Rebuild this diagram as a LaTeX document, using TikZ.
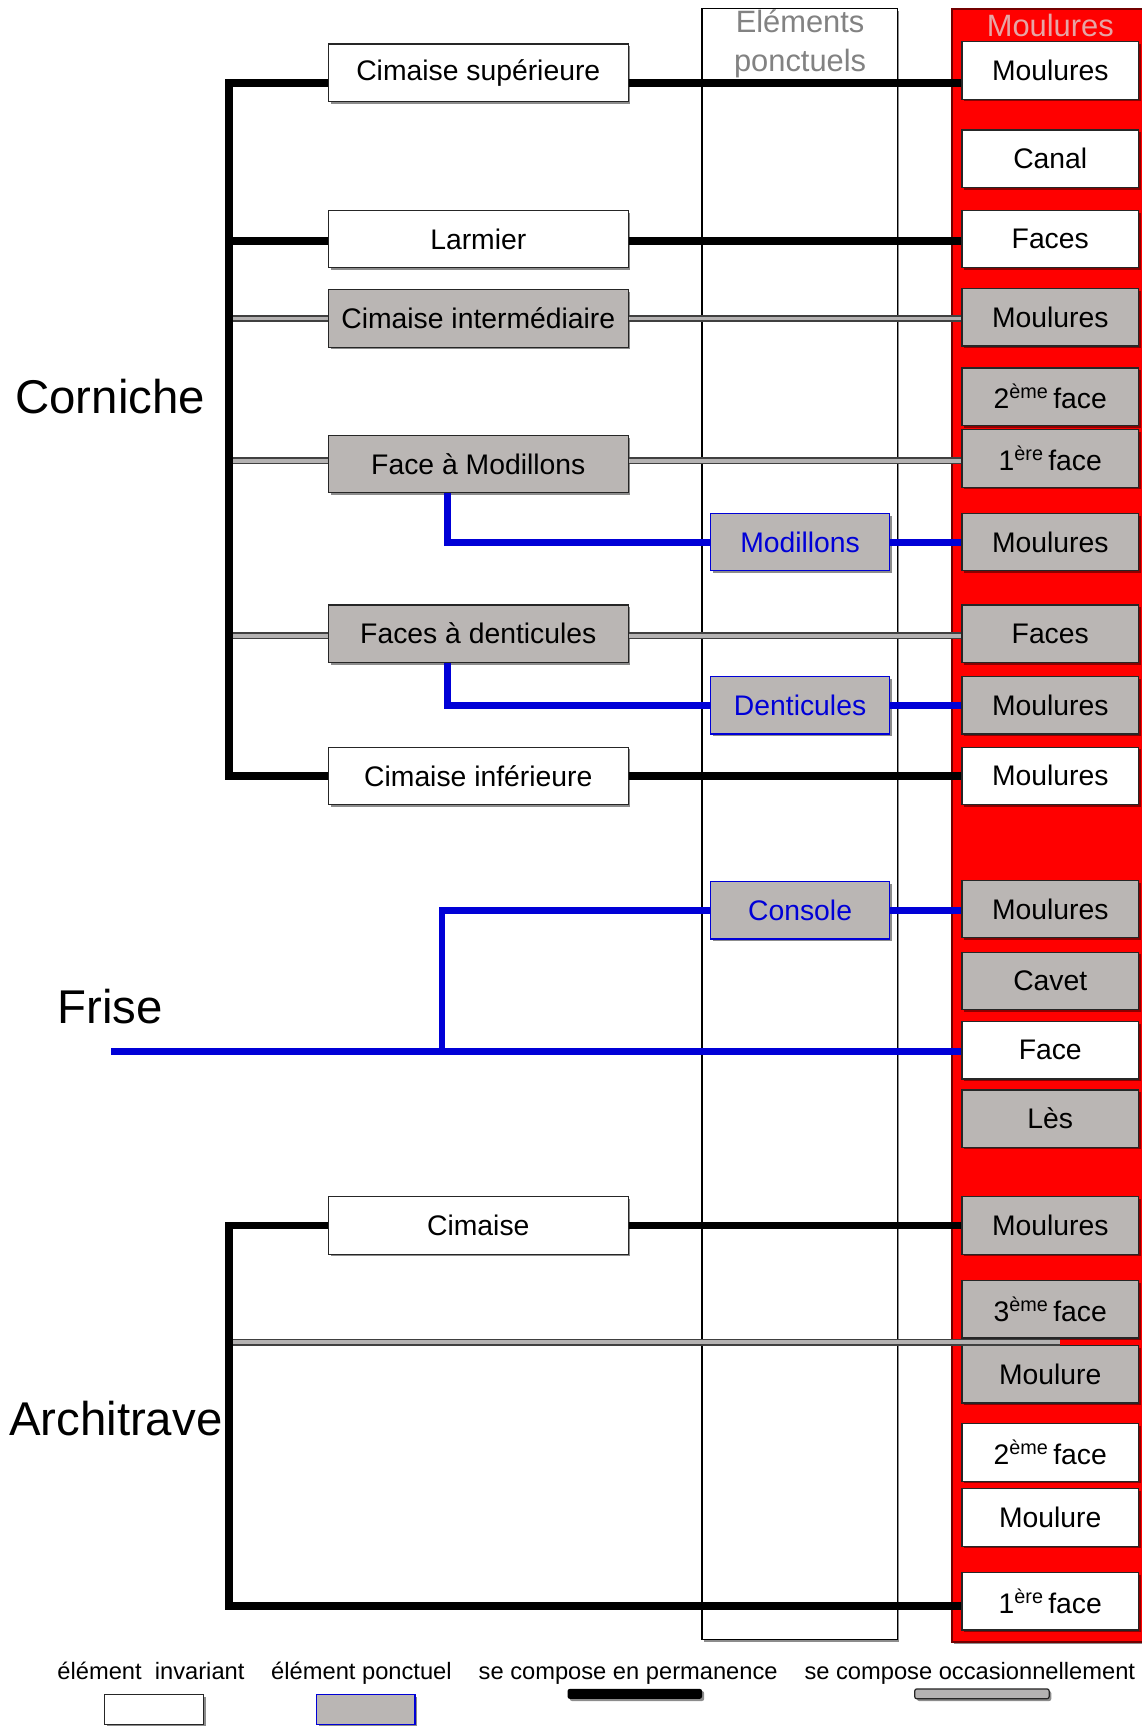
\documentclass[tikz,border=0pt]{standalone}
\usepackage{fontspec}
\setmainfont{Liberation Sans}
\usetikzlibrary{shadows}
\definecolor{boxgray}{RGB}{186,182,180}
\definecolor{redcol}{RGB}{255,0,0}
\definecolor{linkblue}{RGB}{0,0,215}
\definecolor{occgray}{RGB}{180,178,178}
\definecolor{titlepink}{RGB}{230,165,165}
\definecolor{titlegray}{RGB}{130,130,130}
\tikzset{
  shad/.style={drop shadow={shadow xshift=2pt,shadow yshift=-2pt,opacity=0.45,fill=black}},
  basebox/.style={draw=black!85,line width=1.1pt,inner sep=0pt,
    font=\fontsize{25.7}{30}\selectfont,shad},
  leftw/.style={basebox,fill=white,minimum width=272pt,minimum height=52pt},
  leftg/.style={basebox,fill=boxgray,minimum width=272pt,minimum height=52pt},
  rightw/.style={basebox,fill=white,minimum width=160pt,minimum height=52pt},
  rightg/.style={basebox,fill=boxgray,minimum width=160pt,minimum height=52pt},
  ponbox/.style={basebox,draw=linkblue,fill=boxgray,text=linkblue,minimum width=162pt,minimum height=52pt},
  perm/.style={line width=7pt,black},
  occ/.style={draw=black!75,double=occgray,line width=1.3pt,double distance=3.6pt},
  ponc/.style={line width=6pt,linkblue},
  biglabel/.style={font=\fontsize{43}{50}\selectfont,inner sep=0pt},
  legtext/.style={font=\fontsize{21.5}{25}\selectfont,inner sep=0pt,anchor=base},
}
\begin{document}
\begin{tikzpicture}[x=1pt,y=-1pt]
\useasboundingbox (0,0) rectangle (1036,1568);
% columns
\fill[white] (0,0) rectangle (1036,1568);
\draw[fill=redcol,draw=red!45!black,line width=1.5pt,shad] (864,8) rectangle (1045,1490);
\draw[fill=white,draw=black,line width=1pt,shad] (637,8) rectangle (814,1488);
\node[align=center,text=titlegray,font=\fontsize{28}{35}\selectfont,inner sep=0pt] (eptitle) at (726,40) {Eléments\\ponctuels};
\node[text=titlepink,font=\fontsize{28}{32}\selectfont,inner sep=0pt] (mtitle) at (953,23) {Moulures};
% big labels
\node[biglabel] (corniche) at (100,360) {Corniche};
\node[biglabel] (frise) at (100,913) {Frise};
\node[biglabel] (archi) at (105,1287) {Architrave};
% left boxes
\node[leftw] (csup) at (434,66) {Cimaise supérieure};
\node[leftw] (larm) at (434,217) {Larmier};
\node[leftg] (cint) at (434,289) {Cimaise intermédiaire};
\node[leftg] (fmod) at (434,421) {Face à Modillons};
\node[leftg] (fden) at (434,575) {Faces à denticules};
\node[leftw] (cinf) at (434,704) {Cimaise inférieure};
\node[leftw] (cim) at (434,1112) {Cimaise};
% ponctual boxes
\node[ponbox] (modi) at (726,492) {Modillons};
\node[ponbox] (dent) at (726,640) {Denticules};
\node[ponbox] (cons) at (726,826) {Console};
% right boxes
\node[rightw] (r1) at (953,64) {Moulures};
\node[rightw] (r2) at (953,144) {Canal};
\node[rightw] (r3) at (953,217) {Faces};
\node[rightg] (r4) at (953,288) {Moulures};
\node[rightg] (r5) at (953,360) {2\textsuperscript{ème}\,face};
\node[rightg] (r6) at (953,416) {1\textsuperscript{ère}\,face};
\node[rightg] (r7) at (953,492) {Moulures};
\node[rightg] (r8) at (953,575) {Faces};
\node[rightg] (r9) at (953,640) {Moulures};
\node[rightw] (r10) at (953,704) {Moulures};
\node[rightg] (r11) at (953,825) {Moulures};
\node[rightg] (r12) at (953,890) {Cavet};
\node[rightw] (r13) at (953,953) {Face};
\node[rightg] (r14) at (953,1015) {Lès};
\node[rightg] (r15) at (953,1112) {Moulures};
\node[rightg] (r16) at (953,1188) {3\textsuperscript{ème}\,face};
\node[rightg] (r17) at (953,1247) {Moulure};
\node[rightw] (r18) at (953,1318) {2\textsuperscript{ème}\,face};
\node[rightw] (r19) at (953,1377) {Moulure};
\node[rightw] (r20) at (953,1453) {1\textsuperscript{ère}\,face};
% coordinates
\coordinate (ctop) at (208,75);
\coordinate (cbot) at (208,704);
\coordinate (mj) at (406,492);
\coordinate (dj) at (406,640);
\coordinate (fl) at (101,954);
\coordinate (fj) at (401,954);
\coordinate (atop) at (208,1112);
\coordinate (abot) at (208,1457);
\coordinate (ag) at (208,1218);
\coordinate (agend) at (962,1218);
% occasional connectors
\draw[occ] (ctop |- cint.west) -- (cint.west);
\draw[occ] (cint.east) -- (cint.east -| r4.west);
\draw[occ] ([yshift=3pt]fmod.west -| ctop) -- ([yshift=3pt]fmod.west);
\draw[occ] ([yshift=3pt]fmod.east) -- ([yshift=3pt]fmod.east -| r6.west);
\draw[occ] ([yshift=-2pt]fden.west -| ctop) -- ([yshift=-2pt]fden.west);
\draw[occ] ([yshift=-2pt]fden.east) -- ([yshift=-2pt]fden.east -| r8.west);
\draw[occ] (ag) -- (agend);
% permanent connectors
\draw[perm] ([yshift=-9pt]csup.west) -- (ctop) -- (cbot) -- (cinf.west);
\draw[perm] ([yshift=-9pt]csup.east) -- ([yshift=-11pt]r1.west);
\draw[perm] ([yshift=-2pt]larm.west -| ctop) -- ([yshift=-2pt]larm.west);
\draw[perm] ([yshift=-2pt]larm.east) -- ([yshift=-2pt]r3.west);
\draw[perm] (cinf.east) -- (r10.west);
\draw[perm] (cim.west) -- (atop) -- (abot) -- (abot -| r20.west);
\draw[perm] (cim.east) -- (r15.west);
% ponctual connectors
\draw[ponc] (mj |- fmod.south) -- (mj) -- (modi.west);
\draw[ponc] (modi.east) -- (r7.west);
\draw[ponc] (dj |- fden.south) -- (dj) -- (dent.west);
\draw[ponc] (dent.east) -- (r9.west);
\draw[ponc] (fl) -- (fl -| r13.west);
\draw[ponc] (fj) |- (cons.west);
\draw[ponc] (cons.east) -- (cons.east -| r11.west);
% legend
\node[legtext] (l1) at (137,1524) {élément\ \ invariant};
\node[legtext] (l2) at (328,1524) {élément ponctuel};
\node[legtext] (l3) at (570,1524) {se compose en permanence};
\node[legtext] (l4) at (880,1524) {se compose occasionnellement};
\node[basebox,fill=white,minimum width=90pt,minimum height=27pt] (k1) at (140,1551) {};
\node[basebox,draw=linkblue,fill=boxgray,minimum width=89pt,minimum height=27pt] (k2) at (332,1551) {};
\node[fill=black,rounded corners=2pt,minimum width=122pt,minimum height=9pt,inner sep=0pt,shad] (k3) at (576,1537) {};
\node[draw=black!85,line width=1.1pt,fill=occgray,rounded corners=2pt,minimum width=122pt,minimum height=9pt,inner sep=0pt,shad] (k4) at (891,1537) {};
\end{tikzpicture}
\end{document}
